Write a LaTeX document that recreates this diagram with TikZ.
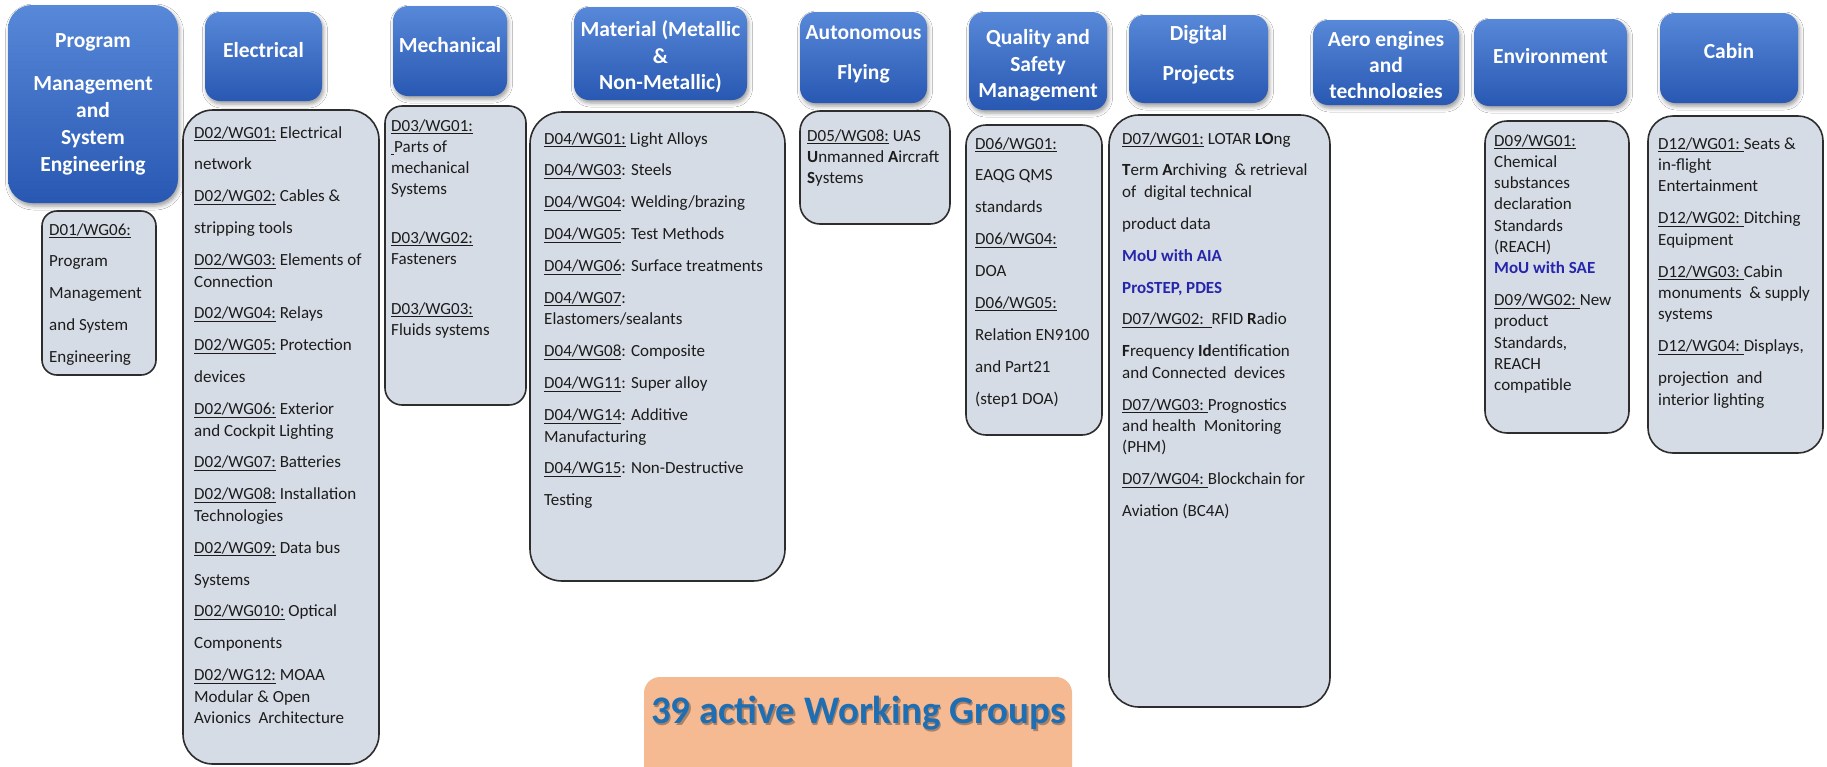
\documentclass[tikz,border=0pt]{standalone}
\usepackage{fontspec}
\setmainfont{Carlito}
\usetikzlibrary{shadows.blur}
\definecolor{hdrtop}{RGB}{88,136,216}
\definecolor{hdrbot}{RGB}{40,88,178}
\definecolor{boxfill}{RGB}{214,220,229}
\definecolor{boxline}{RGB}{45,45,45}
\definecolor{txtc}{RGB}{28,28,28}
\definecolor{mou}{RGB}{38,38,172}
\definecolor{orng}{RGB}{245,186,146}
\definecolor{bigblue}{RGB}{30,110,180}
\newsavebox\ulsave
\newcommand\ulx[1]{\leavevmode\sbox\ulsave{#1}\rlap{\rule[-2.8pt]{\wd\ulsave}{0.9pt}}\usebox\ulsave}
\newcommand\gapln{\\[10.5pt]}
\newcommand\bodyfont{\fontsize{17}{21.4}\selectfont}
\newcommand\mou[1]{{\color{mou}\bfseries #1}}
\tikzset{
  hdr/.style={rounded corners=#1, top color=hdrtop, bottom color=hdrbot, inner sep=0pt, outer sep=0pt,
    blur shadow={shadow xshift=1.5pt, shadow yshift=-3pt, shadow blur radius=4pt, shadow opacity=40}},
  wgbox/.style={rounded corners=#1, fill=boxfill, draw=boxline, line width=1.6pt, inner sep=0pt, outer sep=0pt},
  hdrtxt/.style={text=white, font=\bfseries\fontsize{21.5}{27}\selectfont, inner sep=0pt, anchor=base},
  bodytxt/.style={text=txtc, inner sep=0pt, anchor=base west},
}
\newcommand\mkhdr[6]{%
  \pgfmathsetmacro\bxcx{(#3+#5)/2}\pgfmathsetmacro\bxcy{(#4+#6)/2}%
  \pgfmathsetmacro\bxw{#5-#3}\pgfmathsetmacro\bxh{#6-#4}%
  \node[hdr=#2, minimum width=\bxw pt, minimum height=\bxh pt] (#1) at (\bxcx,\bxcy) {};}
\newcommand\mkbox[6]{%
  \pgfmathsetmacro\bxcx{(#3+#5)/2}\pgfmathsetmacro\bxcy{(#4+#6)/2}%
  \pgfmathsetmacro\bxw{#5-#3}\pgfmathsetmacro\bxh{#6-#4}%
  \node[wgbox=#2, minimum width=\bxw pt, minimum height=\bxh pt] (#1) at (\bxcx,\bxcy) {};}
\begin{document}
\begin{tikzpicture}[x=1pt,y=-1pt]
\clip (0,0) rectangle (1827,766);
\fill[white] (0,0) rectangle (1827,766);

% headers
\mkhdr{hprog}{24pt}{8}{5}{178}{203}
\mkhdr{helec}{15pt}{205}{12}{322}{101}
\mkhdr{hmech}{15pt}{393}{6}{507}{96}
\mkhdr{hmat}{15pt}{574}{7}{747}{100}
\mkhdr{hauto}{15pt}{800}{12}{927}{103}
\mkhdr{hqual}{15pt}{969}{12}{1107}{110}
\mkhdr{hdig}{15pt}{1129}{15}{1268}{103}
\mkhdr{haero}{15pt}{1313}{20}{1459}{105}
\mkhdr{henv}{15pt}{1474}{19}{1627}{106}
\mkhdr{hcab}{15pt}{1660}{13}{1798}{103}

\node[hdrtxt] (tprog) at (93,47.5) {\parbox[t]{170pt}{\centering Program\\[16pt] Management\\ and\\ System\\ Engineering}};
\node[hdrtxt] (telec) at (263.5,57.5) {Electrical};
\node[hdrtxt] (tmech) at (450,52.5) {Mechanical};
\node[hdrtxt] (tmat) at (660.5,36.5) {\parbox[t]{173pt}{\centering Material (Metallic\\[-0.5pt] \&\\[-0.5pt] Non-Metallic)}};
\node[hdrtxt] (tauto) at (863.5,39.5) {\parbox[t]{127pt}{\centering Autonomous\\[13pt] Flying}};
\node[hdrtxt] (tqual) at (1038,44.5) {\parbox[t]{138pt}{\centering Quality and\\[-0.5pt] Safety\\[-0.5pt] Management}};
\node[hdrtxt] (tdig) at (1198.5,40.5) {\parbox[t]{139pt}{\centering Digital\\[13pt] Projects}};
\begin{scope}
\clip (1313,20) rectangle (1459,97);
\node[hdrtxt] (taero) at (1386,46.5) {\parbox[t]{146pt}{\centering Aero engines\\[-1pt] and\\[-1pt] technologies}};
\end{scope}
\node[hdrtxt] (tenv) at (1550.5,63.5) {Environment};
\node[hdrtxt] (tcab) at (1729,58.5) {Cabin};

% working group boxes
\mkbox{bd01}{15pt}{42}{211}{156}{375}
\mkbox{belec}{30pt}{183}{110}{379}{764}
\mkbox{bmech}{17pt}{385}{106}{526}{405}
\mkbox{bmat}{32pt}{530}{112}{785}{581}
\mkbox{bauto}{20pt}{800}{111}{950}{224}
\mkbox{bqual}{20pt}{966}{125}{1102}{435}
\mkbox{bdig}{30pt}{1109}{115}{1330}{707}
\mkbox{benv}{22pt}{1485}{121}{1629}{433}
\mkbox{bcab}{25pt}{1648}{116}{1823}{453}

\node[bodytxt] (xd01) at (49,235) {\parbox[t]{110pt}{\raggedright\bodyfont
\ulx{D01/WG06:}\gapln Program\gapln Management\gapln and System\gapln Engineering}};

\node[bodytxt] (xelec) at (194,138) {\parbox[t]{190pt}{\raggedright\bodyfont
\ulx{D02/WG01:} Electrical\gapln
network\gapln
\ulx{D02/WG02:} Cables \&\gapln
stripping tools\gapln
\ulx{D02/WG03:} Elements of\\
Connection\gapln
\ulx{D02/WG04:} Relays\gapln
\ulx{D02/WG05:} Protection\gapln
devices\gapln
\ulx{D02/WG06:} Exterior\\
and Cockpit Lighting\gapln
\ulx{D02/WG07:} Batteries\gapln
\ulx{D02/WG08:} Installation\\
Technologies\gapln
\ulx{D02/WG09:} Data bus\gapln
Systems\gapln
\ulx{D02/WG010:} Optical\gapln
Components\gapln
\ulx{D02/WG12:} MOAA\\
Modular \& Open\\
Avionics\ \ Architecture}};

\node[bodytxt] (xmech) at (391,131) {\parbox[t]{135pt}{\raggedright\fontsize{17}{21}\selectfont
\ulx{D03/WG01:}\\
\ulx{\hspace{3pt}}Parts of\\
mechanical\\
Systems\\[28pt]
\ulx{D03/WG02:}\\
Fasteners\\[29pt]
\ulx{D03/WG03:}\\
Fluids systems}};

\node[bodytxt] (xmat) at (544,144) {\parbox[t]{240pt}{\raggedright\bodyfont
\ulx{D04/WG01:} Light Alloys\gapln
\ulx{D04/WG03}: Steels\gapln
\ulx{D04/WG04}: Welding/brazing\gapln
\ulx{D04/WG05}: Test Methods\gapln
\ulx{D04/WG06}: Surface treatments\gapln
\ulx{D04/WG07}:\\
Elastomers/sealants\gapln
\ulx{D04/WG08}: Composite\gapln
\ulx{D04/WG11}: Super alloy\gapln
\ulx{D04/WG14}: Additive\\
Manufacturing\gapln
\ulx{D04/WG15}: Non-Destructive\gapln
Testing}};

\node[bodytxt] (xauto) at (807,141) {\parbox[t]{145pt}{\raggedright\fontsize{17}{21}\selectfont
\ulx{D05/WG08:} UAS\\
\textbf{U}nmanned \textbf{A}ircraft\\
\textbf{S}ystems}};

\node[bodytxt] (xqual) at (975,149) {\parbox[t]{130pt}{\raggedright\bodyfont
\ulx{D06/WG01:}\gapln
EAQG QMS\gapln
standards\gapln
\ulx{D06/WG04:}\gapln
DOA\gapln
\ulx{D06/WG05:}\gapln
Relation EN9100\gapln
and Part21\gapln
(step1 DOA)}};

\node[bodytxt] (xdig) at (1122,144) {\parbox[t]{210pt}{\raggedright\bodyfont
\ulx{D07/WG01:} LOTAR \textbf{LO}ng\gapln
\textbf{T}erm \textbf{A}rchiving\ \ \& retrieval\\
of\ \ digital technical\gapln
product data\gapln
\mou{MoU with AIA}\gapln
\mou{ProSTEP, PDES}\gapln
\ulx{D07/WG02:\ \ }RFID \textbf{R}adio\gapln
\textbf{F}requency \textbf{Id}entification\\
and Connected\ \ devices\gapln
\ulx{D07/WG03:\ }Prognostics\\
and health\ \ Monitoring\\
(PHM)\gapln
\ulx{D07/WG04:\ }Blockchain for\gapln
Aviation (BC4A)}};

\node[bodytxt] (xenv) at (1494,146) {\parbox[t]{135pt}{\raggedright\fontsize{17}{21.3}\selectfont
\ulx{D09/WG01:}\\
Chemical\\
substances\\
declaration\\
Standards\\
(REACH)\\
\mou{MoU with SAE}\gapln
\ulx{D09/WG02:\ }New\\
product\\
Standards,\\
REACH\\
compatible}};

\node[bodytxt] (xcab) at (1658,149) {\parbox[t]{165pt}{\raggedright\bodyfont
\ulx{D12/WG01:\ }Seats \&\\
in-flight\\
Entertainment\gapln
\ulx{D12/WG02:\ }Ditching\\
Equipment\gapln
\ulx{D12/WG03:\ }Cabin\\
monuments\ \ \& supply\\
systems\gapln
\ulx{D12/WG04:\ }Displays,\gapln
projection\ \ and\\
interior lighting}};

% summary
\node[fill=orng, rounded corners=16pt, minimum width=428pt, minimum height=110pt, inner sep=0pt] (bsum) at (858,732) {};
\node[text=black, opacity=0.3, font=\bfseries\fontsize{39}{45}\selectfont, inner sep=0pt, anchor=base] (tsumsh) at (860,725.5) {39 active Working Groups};
\node[text=bigblue, font=\bfseries\fontsize{39}{45}\selectfont, inner sep=0pt, anchor=base] (tsum) at (858.5,723.5) {39 active Working Groups};
\end{tikzpicture}
\end{document}
